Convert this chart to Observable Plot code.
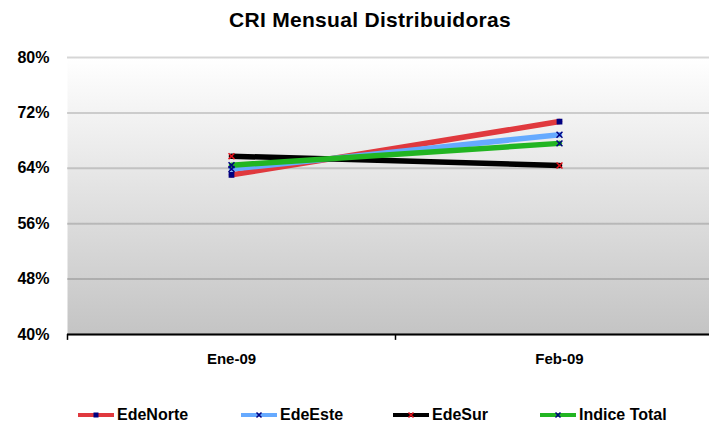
<!DOCTYPE html>
<html><head><meta charset="utf-8">
<script src="https://cdn.jsdelivr.net/npm/d3@7"></script>
<script src="https://cdn.jsdelivr.net/npm/@observablehq/plot@0.6"></script>
<style>
body{margin:0;background:#fff;font-family:"Liberation Sans",Arial,sans-serif;}
#wrap{position:relative;width:709px;height:426px;overflow:hidden;}
#title{position:absolute;left:31px;top:1px;width:678px;height:38px;line-height:38px;text-align:center;font-size:21px;font-weight:bold;color:#000;letter-spacing:0.3px;}
#chart{position:absolute;left:0;top:40px;}
#legend{position:absolute;left:0;top:392px;width:709px;height:46px;}
.item{position:absolute;top:0;height:46px;display:flex;align-items:center;font-size:16px;font-weight:bold;color:#000;}
.item svg{margin-right:3px;}
</style>
</head><body>
<div id="wrap">
  <div id="title">CRI Mensual Distribuidoras</div>
  <div id="chart"></div>
  <div id="legend"></div>
</div>
<script>
const months = ["Ene-09", "Feb-09"];
const seriesNames = ["EdeNorte", "EdeEste", "EdeSur", "Indice Total"];
const edeNorte = [63.05, 70.75];
const edeEste = [63.9, 68.85];
const edeSur = [65.75, 64.4];
const indiceTotal = [64.45, 67.6];
const yTicks = [40, 48, 56, 64, 72, 80];

const colors = ["#e0393e", "#66aaff", "#000000", "#22b522"];
const markerColors = ["#000080", "#000080", "#e0101a", "#000080"];
const markerSymbols = ["square", "times", "times", "times"];
const legendX = [78, 241, 393, 540];

const valuesBySeries = [edeNorte, edeEste, edeSur, indiceTotal];
const data = [];
seriesNames.forEach((s, i) => months.forEach((m, j) => data.push({series: s, month: m, value: valuesBySeries[i][j]})));

const marks = [
  Plot.frame({fill: "url(#bggrad)", stroke: "none"}),
  Plot.gridY(yTicks, {stroke: "#000", strokeOpacity: 0.16, strokeWidth: 2}),
  Plot.ruleY([40], {stroke: "#000", strokeWidth: 2}),
  Plot.ruleX(months, {x: d => d, dx: -164, y1: 40, y2: 39.15, stroke: "#000", strokeWidth: 1.5}),
  Plot.axisY({ticks: yTicks, tickSize: 0, tickPadding: 18, tickFormat: d => d + "%", fontSize: 16, fontWeight: "bold", fill: "#000", label: null}),
  Plot.axisX({tickSize: 0, tickPadding: 19, fontSize: 15, fontWeight: "bold", fill: "#000", label: null})
];
seriesNames.forEach((s, i) => {
  const rows = data.filter(d => d.series === s);
  marks.push(Plot.line(rows, {x: "month", y: "value", stroke: colors[i], strokeWidth: 5.5, strokeLinecap: "round"}));
});
seriesNames.forEach((s, i) => {
  const rows = data.filter(d => d.series === s);
  marks.push(Plot.dot(rows, {x: "month", y: "value", symbol: markerSymbols[i], r: markerSymbols[i] === "square" ? 2.4 : 2.8, stroke: markerColors[i], strokeWidth: 1.5, fill: markerSymbols[i] === "square" ? markerColors[i] : "none"}));
});

const plot = Plot.plot({
  width: 709,
  height: 340,
  marginTop: 17,
  marginBottom: 46,
  marginLeft: 67,
  marginRight: 0,
  style: {background: "transparent", fontFamily: "'Liberation Sans', Arial, sans-serif", overflow: "hidden"},
  x: {type: "point", domain: months, range: [67, 723], padding: 0.5, axis: null},
  y: {domain: [40, 80], axis: null},
  marks
});

const ns = "http://www.w3.org/2000/svg";
const defs = document.createElementNS(ns, "defs");
const grad = document.createElementNS(ns, "linearGradient");
grad.setAttribute("id", "bggrad");
grad.setAttribute("x1", "0"); grad.setAttribute("y1", "0");
grad.setAttribute("x2", "0"); grad.setAttribute("y2", "1");
[["0", "#ffffff"], ["1", "#c4c4c4"]].forEach(([o, c]) => {
  const st = document.createElementNS(ns, "stop");
  st.setAttribute("offset", o); st.setAttribute("stop-color", c);
  grad.appendChild(st);
});
defs.appendChild(grad);
plot.insertBefore(defs, plot.firstChild);
document.getElementById("chart").appendChild(plot);

const legend = document.getElementById("legend");
seriesNames.forEach((s, i) => {
  const item = document.createElement("div");
  item.className = "item";
  item.style.left = legendX[i] + "px";
  const sym = markerSymbols[i] === "square"
    ? `<rect x="15.5" y="4.5" width="5" height="5" fill="${markerColors[i]}"/>`
    : `<path d="M15.5,4.5L20.5,9.5M20.5,4.5L15.5,9.5" stroke="${markerColors[i]}" stroke-width="1.5"/>`;
  item.innerHTML = `<svg width="36" height="14"><line x1="0" x2="36" y1="7" y2="7" stroke="${colors[i]}" stroke-width="4"/>${sym}</svg><span>${s}</span>`;
  legend.appendChild(item);
});
</script>
</body></html>
